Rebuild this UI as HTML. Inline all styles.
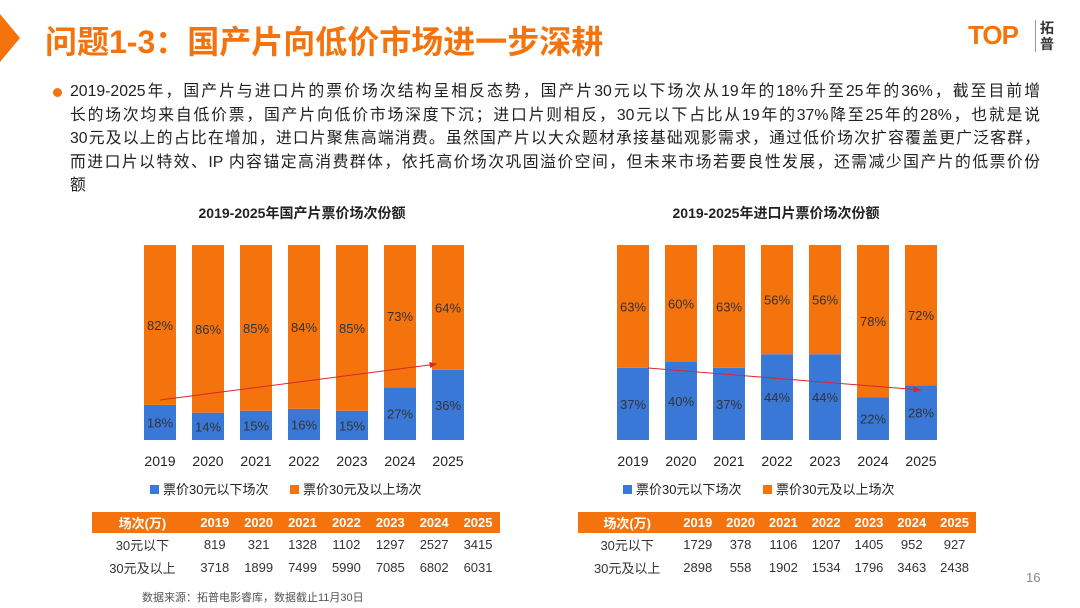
<!DOCTYPE html>
<html><head><meta charset="utf-8"><style>
body{margin:0;width:1080px;height:608px;background:#fff;position:relative;overflow:hidden;font-family:"Liberation Sans","Noto Sans CJK SC",sans-serif;color:#222}
.abs{position:absolute}
.ln{white-space:nowrap;text-align:justify;text-align-last:justify;width:970px;height:23.6px}
table{border-collapse:collapse;position:absolute;font-size:13px;text-align:center}
th{background:#f5730c;color:#fff;font-weight:bold;height:21px;padding:0}
td{height:23px;padding:0;color:#333}
</style></head><body>
<svg class="abs" style="left:0;top:14px" width="22" height="48"><polygon points="0,0 20,24 0,48" fill="#f5730c"/></svg>
<div class="abs" style="left:45px;top:17px;font-size:32px;font-weight:bold;color:#f5730c">问题1-3：国产片向低价市场进一步深耕</div>
<div class="abs" style="left:968px;top:20px;font-size:26px;font-weight:bold;color:#f5730c;letter-spacing:-1px">TOP</div>
<div class="abs" style="left:1035px;top:20px;font-size:14px;line-height:16px;font-weight:bold;color:#333;border-left:1px solid #999;padding-left:4px">拓<br>普</div>
<div class="abs" style="left:53px;top:88px;width:9px;height:9px;border-radius:50%;background:#f5730c"></div>
<div class="abs" style="left:70px;top:80px;font-size:15.8px;line-height:23.6px;color:#222">
<div class="ln">2019-2025年，国产片与进口片的票价场次结构呈相反态势，国产片30元以下场次从19年的18%升至25年的36%，截至目前增</div>
<div class="ln">长的场次均来自低价票，国产片向低价市场深度下沉；进口片则相反，30元以下占比从19年的37%降至25年的28%，也就是说</div>
<div class="ln">30元及以上的占比在增加，进口片聚焦高端消费。虽然国产片以大众题材承接基础观影需求，通过低价场次扩容覆盖更广泛客群，</div>
<div class="ln">而进口片以特效、IP 内容锚定高消费群体，依托高价场次巩固溢价空间，但未来市场若要良性发展，还需减少国产片的低票价份</div>
<div>额</div>
</div>
<svg id="charts" class="abs" style="left:0;top:0" width="1080" height="510"></svg>
<div class="abs" style="left:1026px;top:570px;font-size:13px;color:#888">16</div>
<div class="abs" style="left:142px;top:589px;font-size:11px;color:#555">数据来源：拓普电影睿库，数据截止11月30日</div>
<script>
const years=["2019","2020","2021","2022","2023","2024","2025"];
const domLow=[18,14,15,16,15,27,36];
const domHigh=[82,86,85,84,85,73,64];
const impLow=[37,40,37,44,44,22,28];
const impHigh=[63,60,63,56,56,78,72];
const domTblLow=[819,321,1328,1102,1297,2527,3415];
const domTblHigh=[3718,1899,7499,5990,7085,6802,6031];
const impTblLow=[1729,378,1106,1207,1405,952,927];
const impTblHigh=[2898,558,1902,1534,1796,3463,2438];
const NS="http://www.w3.org/2000/svg";
const svg=document.getElementById('charts');
function mk(t,a,txt){const e=document.createElementNS(NS,t);for(const k in a)e.setAttribute(k,a[k]);if(txt!=null)e.textContent=txt;svg.appendChild(e);return e;}
function chart(x0,title,titleX,low,high,arrowFrom,arrowTo,pre){
  const step=48,bw=32,top=245,bot=440,h=bot-top;
  const xs=i=>x0+i*step, ys=v=>bot-v/100*h;
  let t=mk('text',{x:titleX,y:218,'text-anchor':'middle','font-size':14,'font-weight':'bold',fill:'#222'},title);
  
  years.forEach((y,i)=>{
    const tot=low[i]+high[i];
    let r=mk('rect',{x:xs(i)-bw/2,y:ys(low[i]/tot*100),width:bw,height:bot-ys(low[i]/tot*100),fill:'#3a78d8'});
    
    let r2=mk('rect',{x:xs(i)-bw/2,y:top,width:bw,height:ys(low[i]/tot*100)-top,fill:'#f5730c'});
    
    let l1=mk('text',{x:xs(i),y:(ys(low[i]/tot*100)+bot)/2+5,'text-anchor':'middle','font-size':13,fill:'#333'},low[i]+'%');
    
    let l2=mk('text',{x:xs(i),y:(ys(low[i]/tot*100)+top)/2+5,'text-anchor':'middle','font-size':13,fill:'#333'},high[i]+'%');
    
    let yl=mk('text',{x:xs(i),y:466,'text-anchor':'middle','font-size':14,fill:'#222'},y);
    
  });
  let a=mk('line',{x1:arrowFrom[0],y1:arrowFrom[1],x2:arrowTo[0],y2:arrowTo[1],stroke:'#d9262a','stroke-width':1});
  
  const ang=Math.atan2(arrowTo[1]-arrowFrom[1],arrowTo[0]-arrowFrom[0]);
  const p=(d,o)=>[arrowTo[0]-d*Math.cos(ang+o),arrowTo[1]-d*Math.sin(ang+o)];
  const q1=p(8,0.4),q2=p(8,-0.4);
  let ah=mk('polygon',{points:`${arrowTo[0]},${arrowTo[1]} ${q1} ${q2}`,fill:'#d9262a'});
  
  const lx=x0-10;
  let k1=mk('rect',{x:lx,y:485,width:9,height:9,fill:'#3a78d8'});
  
  let k1t=mk('text',{x:lx+13,y:494,'font-size':13,fill:'#222'},'票价30元以下场次');
  
  let k2=mk('rect',{x:lx+140,y:485,width:9,height:9,fill:'#f5730c'});
  
  let k2t=mk('text',{x:lx+153,y:494,'font-size':13,fill:'#222'},'票价30元及以上场次');
  
}
chart(160,'2019-2025年国产片票价场次份额',302,domLow,domHigh,[160,400],[437,364],'domestic');
chart(633,'2019-2025年进口片票价场次份额',776,impLow,impHigh,[648,368],[921,390],'import');
function table(left,width,lowArr,highArr,pre){
  const tb=document.createElement('table');
  
  
  tb.style.left=left+'px';tb.style.top='512px';tb.style.width=width+'px';
  let h='<tr><th>场次(万)</th>'+years.map(y=>'<th>'+y+'</th>').join('')+'</tr>';
  h+='<tr><td>30元以下</td>'+lowArr.map(v=>'<td>'+v+'</td>').join('')+'</tr>';
  h+='<tr><td>30元及以上</td>'+highArr.map(v=>'<td>'+v+'</td>').join('')+'</tr>';
  tb.innerHTML=h;document.body.appendChild(tb);
}
table(92,408,domTblLow,domTblHigh,'domestic');
table(578,398,impTblLow,impTblHigh,'import');
</script>
</body></html>
